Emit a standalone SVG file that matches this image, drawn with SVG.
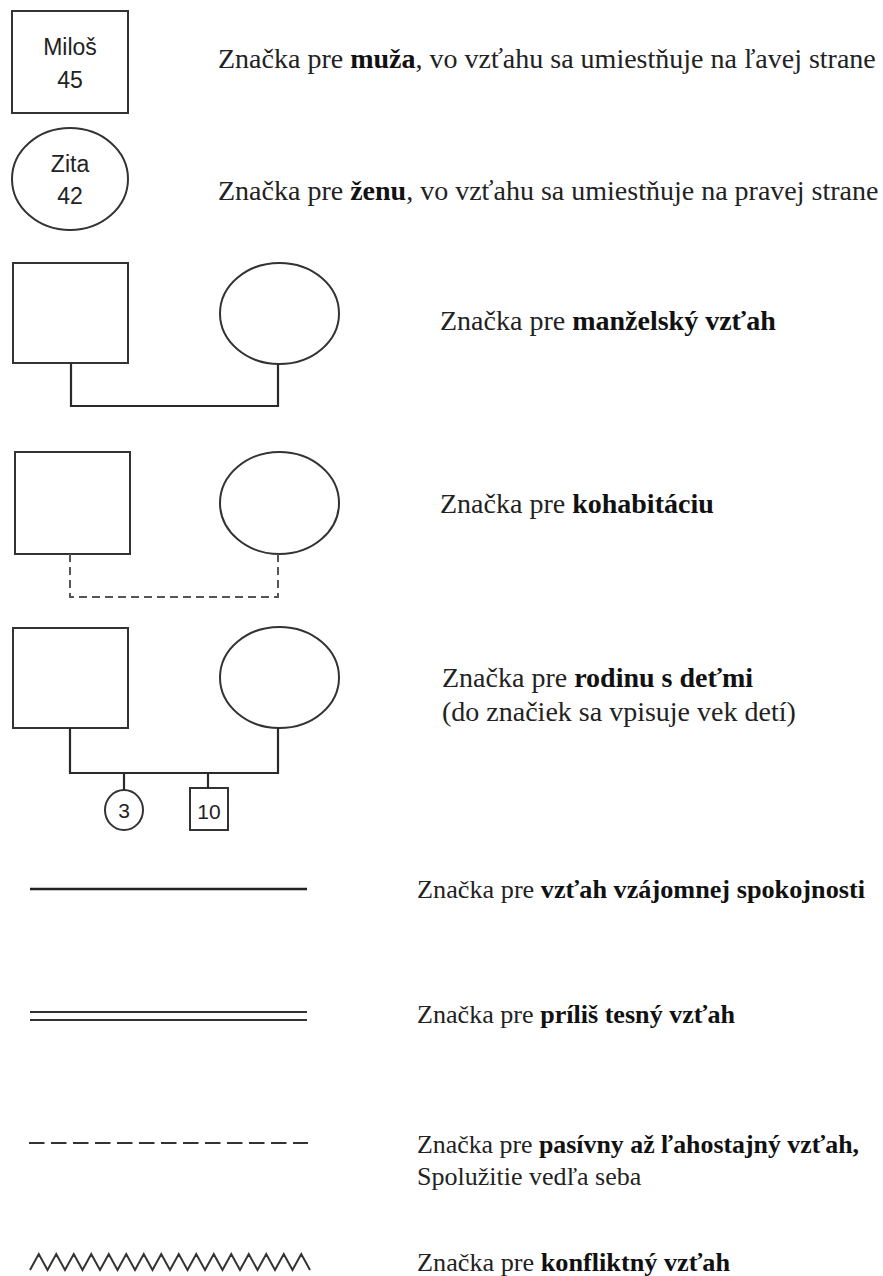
<svg xmlns="http://www.w3.org/2000/svg" width="883" height="1276" viewBox="0 0 883 1276">
<style>
.shape{fill:#fff;stroke:#333;stroke-width:2}
.conn{fill:none;stroke:#2a2a2a;stroke-width:2.2}
.dash{fill:none;stroke:#555;stroke-width:2;stroke-dasharray:8 5}
.lbl{font-family:"Liberation Serif","Times New Roman",serif;font-size:28px;fill:#222}
.sm{font-size:26px}
.b{font-weight:bold;fill:#111}
.sans{font-family:"Liberation Sans",Arial,sans-serif;fill:#222;text-anchor:middle}
</style>
<rect width="883" height="1276" fill="#fff"/>

<g id="node-man">
<rect class="shape" x="12" y="11" width="116" height="102" stroke="#555" stroke-width="2.4"/>
<text class="sans" x="70" y="55" font-size="23">Miloš</text>
<text class="sans" x="70" y="88" font-size="23">45</text>
</g>
<g id="label-man"><text class="lbl" x="218" y="68">Značka pre <tspan class="b">muža</tspan>, vo vzťahu sa umiestňuje na ľavej strane</text></g>

<g id="node-woman">
<ellipse class="shape" cx="70" cy="179" rx="58" ry="51"/>
<text class="sans" x="70" y="172" font-size="23">Zita</text>
<text class="sans" x="70" y="204" font-size="23">42</text>
</g>
<g id="label-woman"><text class="lbl" x="218" y="200">Značka pre <tspan class="b">ženu</tspan>, vo vzťahu sa umiestňuje na pravej strane</text></g>

<g id="marriage-man"><rect class="shape" x="13" y="263" width="115" height="100" stroke="#555" stroke-width="2.4"/></g>
<g id="marriage-woman"><ellipse class="shape" cx="279.5" cy="313.5" rx="59.5" ry="50.5"/></g>
<g id="label-marriage"><text class="lbl" x="440" y="330">Značka pre <tspan class="b">manželský vzťah</tspan></text></g>

<g id="cohab-man"><rect class="shape" x="15" y="452" width="115" height="102"/></g>
<g id="cohab-woman"><ellipse class="shape" cx="279.5" cy="503" rx="59.5" ry="51"/></g>
<g id="label-cohab"><text class="lbl" x="440" y="513">Značka pre <tspan class="b">kohabitáciu</tspan></text></g>

<g id="family-man"><rect class="shape" x="13" y="628" width="115" height="100"/></g>
<g id="family-woman"><ellipse class="shape" cx="279.5" cy="677.5" rx="59.5" ry="50.5"/></g>
<g id="child-girl">
<ellipse class="shape" cx="124" cy="810" rx="19" ry="20"/>
<text class="sans" x="124" y="818" font-size="21">3</text>
</g>
<g id="child-boy">
<rect class="shape" x="190" y="788" width="38" height="42"/>
<text class="sans" x="209" y="819" font-size="21">10</text>
</g>
<g id="label-family">
<text class="lbl" x="442" y="687">Značka pre <tspan class="b">rodinu s deťmi</tspan></text>
<text class="lbl" x="442" y="721">(do značiek sa vpisuje vek detí)</text>
</g>

<g id="connectors">
<polyline class="conn" points="71,363 71,406 278,406 278,364"/>
<polyline class="dash" points="70,554 70,597 278,597 278,554"/>
<polyline class="conn" points="70,728 70,773 278,773 278,728"/>
<line class="conn" x1="124" y1="773" x2="124" y2="790"/>
<line class="conn" x1="208" y1="773" x2="208" y2="788"/>
</g>

<g id="legend-satisfaction">
<line x1="30" y1="889" x2="307" y2="889" stroke="#222" stroke-width="2.4"/>
<text class="lbl sm" x="417" y="898" textLength="448" lengthAdjust="spacingAndGlyphs">Značka pre <tspan class="b">vzťah vzájomnej spokojnosti</tspan></text>
</g>
<g id="legend-close">
<line x1="30" y1="1012" x2="307" y2="1012" stroke="#333" stroke-width="1.8"/>
<line x1="30" y1="1020" x2="307" y2="1020" stroke="#333" stroke-width="1.8"/>
<text class="lbl sm" x="417" y="1023" textLength="318" lengthAdjust="spacingAndGlyphs">Značka pre <tspan class="b">príliš tesný vzťah</tspan></text>
</g>
<g id="legend-passive">
<line x1="29" y1="1143" x2="308" y2="1143" stroke="#333" stroke-width="2" stroke-dasharray="15.5 6.5"/>
<text class="lbl sm" x="417" y="1153" textLength="442" lengthAdjust="spacingAndGlyphs">Značka pre <tspan class="b">pasívny až ľahostajný vzťah,</tspan></text>
<text class="lbl sm" x="417" y="1185">Spolužitie vedľa seba</text>
</g>
<g id="legend-conflict">
<polyline fill="none" stroke="#333" stroke-width="2" stroke-linejoin="miter" points="30,1270 38.75,1254 47.5,1270 56.25,1254 65,1270 73.75,1254 82.5,1270 91.25,1254 100,1270 108.75,1254 117.5,1270 126.25,1254 135,1270 143.75,1254 152.5,1270 161.25,1254 170,1270 178.75,1254 187.5,1270 196.25,1254 205,1270 213.75,1254 222.5,1270 231.25,1254 240,1270 248.75,1254 257.5,1270 266.25,1254 275,1270 283.75,1254 292.5,1270 301.25,1254 310,1270"/>
<text class="lbl sm" x="417" y="1271" textLength="313" lengthAdjust="spacingAndGlyphs">Značka pre <tspan class="b">konfliktný vzťah</tspan></text>
</g>
</svg>
